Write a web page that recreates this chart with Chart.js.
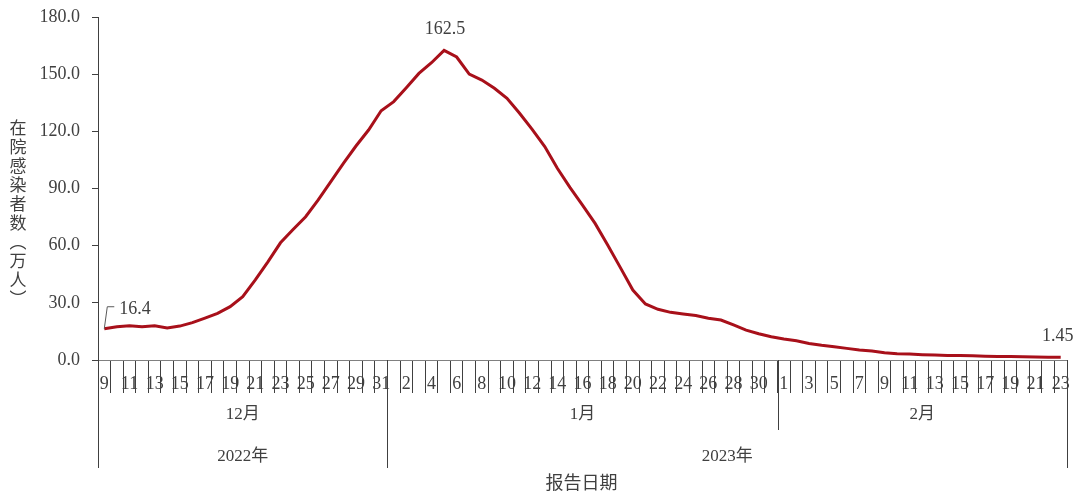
<!DOCTYPE html>
<html>
<head>
<meta charset="utf-8">
<script src="https://cdn.jsdelivr.net/npm/chart.js@4.4.0/dist/chart.umd.min.js"></script>
<style>
    html, body { margin: 0; padding: 0; background: #fff; }
    #wrap { width: 1080px; height: 500px; }
</style>
</head>
<body>
<div id="wrap"><canvas id="chart" width="1080" height="500"></canvas></div>
<script>
// ===== DATA =====

const dayLabels = [
    '9','10','11','12','13','14','15','16','17','18','19','20','21','22','23','24','25','26','27','28','29','30','31',
    '1','2','3','4','5','6','7','8','9','10','11','12','13','14','15','16','17','18','19','20','21','22','23','24','25','26','27','28','29','30','31',
    '1','2','3','4','5','6','7','8','9','10','11','12','13','14','15','16','17','18','19','20','21','22','23'
];

// 在院感染者数（万人）
const inHospital = [
    16.4, 17.5, 18.0, 17.5, 18.0, 16.8, 17.8, 19.6, 22.0, 24.5, 28.0, 33.2, 42.0, 51.5, 61.5, 68.5, 75.2, 84.0, 93.6, 103.2, 112.3, 120.7, 130.8,
    135.6, 142.9, 150.4, 156.0, 162.5, 159.0, 150.0, 146.9, 142.6, 137.3, 129.5, 121.0, 112.0, 100.6, 90.6, 81.3, 71.7, 60.4, 48.6, 36.7, 29.4, 26.6, 25.0, 24.1, 23.3, 21.9, 21.0, 18.4, 15.7, 13.8, 12.2,
    11.0, 10.1, 8.7, 7.7, 7.0, 6.1, 5.2, 4.7, 3.8, 3.3, 3.1, 2.8, 2.6, 2.4, 2.3, 2.2, 2.0, 1.9, 1.8, 1.7, 1.6, 1.5, 1.45
];

const monthNames = ['12月', '1月', '2月'];
const monthStarts = [0, 23, 54];
const yearNames = ['2022年', '2023年'];
const yearStarts = [0, 23];

const labelledPoints = [0, 27, 76];

const yMin = 0;
const yMax = 180;
const yStep = 30;

const yTitle = ['在', '院', '感', '染', '者', '数', '︵', '万', '人', '︶'];
const xTitle = '报告日期';

// ===== STYLE =====

const serif = "'Liberation Serif', 'Noto Sans CJK SC', serif";
const textColor = '#404040';
const lineColor = '#a8101a';

// ===== CUSTOM AXIS DRAWING =====

const axisDecor = {
    id: 'axisDecor',
    afterDraw(chart) {
        const ctx = chart.ctx;
        const x = chart.scales.x;
        const area = chart.chartArea;
        const bottom = area.bottom;

        const boundary = i => {
            if (i <= 0) return x.left;
            if (i >= dayLabels.length) return x.right;
            return (x.getPixelForValue(i - 1) + x.getPixelForValue(i)) / 2;
        };

        ctx.save();
        ctx.fillStyle = textColor;
        ctx.textAlign = 'center';
        ctx.textBaseline = 'middle';

        // day labels
        ctx.font = '18px ' + serif;
        dayLabels.forEach((d, i) => {
            if (i % 2 === 0) {
                ctx.fillText(d, x.getPixelForValue(i), bottom + 24);
            }
        });

        // separators
        ctx.strokeStyle = '#404040';
        ctx.lineWidth = 1;
        const vline = (px, len) => {
            const xx = Math.round(px) + 0.5;
            ctx.beginPath();
            ctx.moveTo(xx, bottom);
            ctx.lineTo(xx, bottom + len);
            ctx.stroke();
        };
        yearStarts.forEach(s => vline(boundary(s), 108));
        vline(boundary(dayLabels.length), 108);
        monthStarts.forEach(s => {
            if (!yearStarts.includes(s)) vline(boundary(s), 70);
        });

        // month labels
        ctx.font = '17px ' + serif;
        monthNames.forEach((m, k) => {
            const a = boundary(monthStarts[k]);
            const b = boundary(k + 1 < monthStarts.length ? monthStarts[k + 1] : dayLabels.length);
            ctx.fillText(m, (a + b) / 2, bottom + 55);
        });

        // year labels
        yearNames.forEach((yname, k) => {
            const a = boundary(yearStarts[k]);
            const b = boundary(k + 1 < yearStarts.length ? yearStarts[k + 1] : dayLabels.length);
            ctx.fillText(yname, (a + b) / 2, bottom + 97);
        });

        // x title
        ctx.font = '18px ' + serif;
        ctx.fillText(xTitle, (x.left + x.right) / 2 - 1, bottom + 124);

        // y title, stacked characters
        ctx.font = "17px 'Noto Sans CJK SC', sans-serif";
        yTitle.forEach((c, i) => {
            ctx.fillText(c, 18, 128 + i * 19);
        });

        // data labels
        const meta = chart.getDatasetMeta(0);
        ctx.font = '18px ' + serif;
        labelledPoints.forEach((idx, k) => {
            const p = meta.data[idx];
            const txt = String(inHospital[idx]);
            if (k === 0) {
                ctx.beginPath();
                ctx.moveTo(p.x, p.y);
                ctx.lineTo(p.x + 3, p.y - 22);
                ctx.lineTo(p.x + 10, p.y - 22);
                ctx.strokeStyle = '#595959';
                ctx.stroke();
                ctx.textAlign = 'left';
                ctx.fillText(txt, p.x + 15, p.y - 19);
            } else {
                ctx.textAlign = 'center';
                ctx.fillText(txt, p.x + (k === 1 ? 1 : -3), p.y - 21);
            }
        });

        ctx.restore();
    }
};

// ===== CHART =====

const chart = new Chart(
    document.getElementById('chart'),
    {
        type: 'line',
        data: {
            labels: dayLabels,
            datasets: [{
                label: '在院感染者数',
                data: inHospital,
                borderColor: lineColor,
                borderWidth: 3,
                pointRadius: 0,
                tension: 0,
                fill: false
            }]
        },
        options: {
            responsive: false,
            animation: false,
            devicePixelRatio: 1,
            layout: {
                padding: { top: 17, right: 13, left: 0, bottom: 0 }
            },
            plugins: {
                legend: { display: false },
                tooltip: { enabled: false }
            },
            scales: {
                x: {
                    type: 'category',
                    offset: true,
                    grid: {
                        offset: true,
                        drawOnChartArea: false,
                        tickLength: 33,
                        color: '#404040'
                    },
                    border: { color: '#808080' },
                    ticks: { display: false },
                    afterFit(scale) { scale.height = 140; }
                },
                y: {
                    min: yMin,
                    max: yMax,
                    ticks: {
                        stepSize: yStep,
                        callback: v => v.toFixed(1),
                        font: { family: serif, size: 18 },
                        color: textColor,
                        padding: 12
                    },
                    grid: {
                        drawOnChartArea: false,
                        tickLength: 6,
                        color: '#404040'
                    },
                    border: { color: '#404040' },
                    afterFit(scale) {
                        scale.width = 98;
                        scale.paddingTop = 0;
                        scale.paddingBottom = 0;
                    }
                }
            }
        },
        plugins: [axisDecor]
    }
);
</script>
</body>
</html>
